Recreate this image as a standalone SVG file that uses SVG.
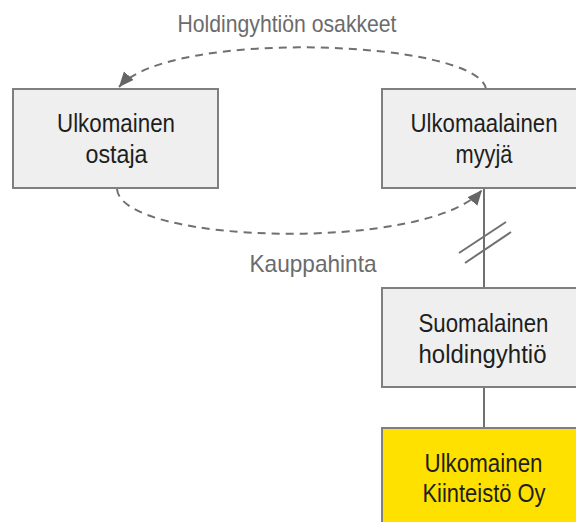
<svg xmlns="http://www.w3.org/2000/svg" width="576" height="522" viewBox="0 0 576 522">
  <style>
    .box { fill: #efefef; stroke: #7f7f7f; stroke-width: 2; }
    .box.re { fill: #ffe100; }
    .txt { font-family: "Liberation Sans", Arial, sans-serif; font-size: 25px; fill: #1e1e1e; text-anchor: middle; }
    .lbl { font-family: "Liberation Sans", Arial, sans-serif; font-size: 24px; fill: #6b6b6b; text-anchor: middle; }
    .flow { fill: none; stroke: #707070; stroke-width: 2; stroke-dasharray: 8 6; }
    .own { fill: none; stroke: #707070; stroke-width: 2; }
  </style>
  <defs>
    <marker id="arrow" markerUnits="userSpaceOnUse" markerWidth="16" markerHeight="14" refX="15" refY="6.5" orient="auto">
      <path d="M0,0 L15,6.5 L0,13 z" fill="#666666"/>
    </marker>
  </defs>

  <rect width="576" height="522" fill="#ffffff"/>

  <!-- connectors -->
  <g id="connectors">
    <!-- shares: seller to buyer -->
    <path class="flow" d="M486,89 C478,40 170,28 119,87" marker-end="url(#arrow)"/>
    <!-- purchase price: buyer to seller -->
    <path class="flow" d="M117,189 C122,245 430,252 482,190" marker-end="url(#arrow)"/>
    <!-- ownership line seller - holding, cut by the sale -->
    <line class="own" x1="484" y1="188" x2="484" y2="288"/>
    <line class="own" x1="459" y1="253" x2="506" y2="222"/>
    <line class="own" x1="465" y1="263" x2="511" y2="232"/>
    <!-- ownership line holding - property company -->
    <line class="own" x1="484" y1="387" x2="484" y2="428"/>
    <text class="lbl" x="287" y="32" textLength="219" lengthAdjust="spacingAndGlyphs">Holdingyhtiön osakkeet</text>
    <text class="lbl" x="313" y="272" textLength="127" lengthAdjust="spacingAndGlyphs">Kauppahinta</text>
  </g>

  <!-- nodes -->
  <g id="buyer">
    <rect class="box" x="13" y="89" width="205" height="99"/>
    <text class="txt" x="116" y="132" textLength="118" lengthAdjust="spacingAndGlyphs">Ulkomainen</text>
    <text class="txt" x="116.5" y="163" textLength="62" lengthAdjust="spacingAndGlyphs">ostaja</text>
  </g>

  <g id="seller">
    <rect class="box" x="382" y="89" width="205" height="99"/>
    <text class="txt" x="484" y="132" textLength="147" lengthAdjust="spacingAndGlyphs">Ulkomaalainen</text>
    <text class="txt" x="484" y="163" textLength="57" lengthAdjust="spacingAndGlyphs">myyjä</text>
  </g>

  <g id="holding">
    <rect class="box" x="382" y="288" width="205" height="99"/>
    <text class="txt" x="483.5" y="331.5" textLength="130" lengthAdjust="spacingAndGlyphs">Suomalainen</text>
    <text class="txt" x="482.5" y="362.5" textLength="128" lengthAdjust="spacingAndGlyphs">holdingyhtiö</text>
  </g>

  <g id="property">
    <rect class="box re" x="382" y="428" width="205" height="99"/>
    <text class="txt" x="483.5" y="471.5" textLength="118" lengthAdjust="spacingAndGlyphs">Ulkomainen</text>
    <text class="txt" x="484" y="502" textLength="123" lengthAdjust="spacingAndGlyphs">Kiinteistö Oy</text>
  </g>
</svg>
